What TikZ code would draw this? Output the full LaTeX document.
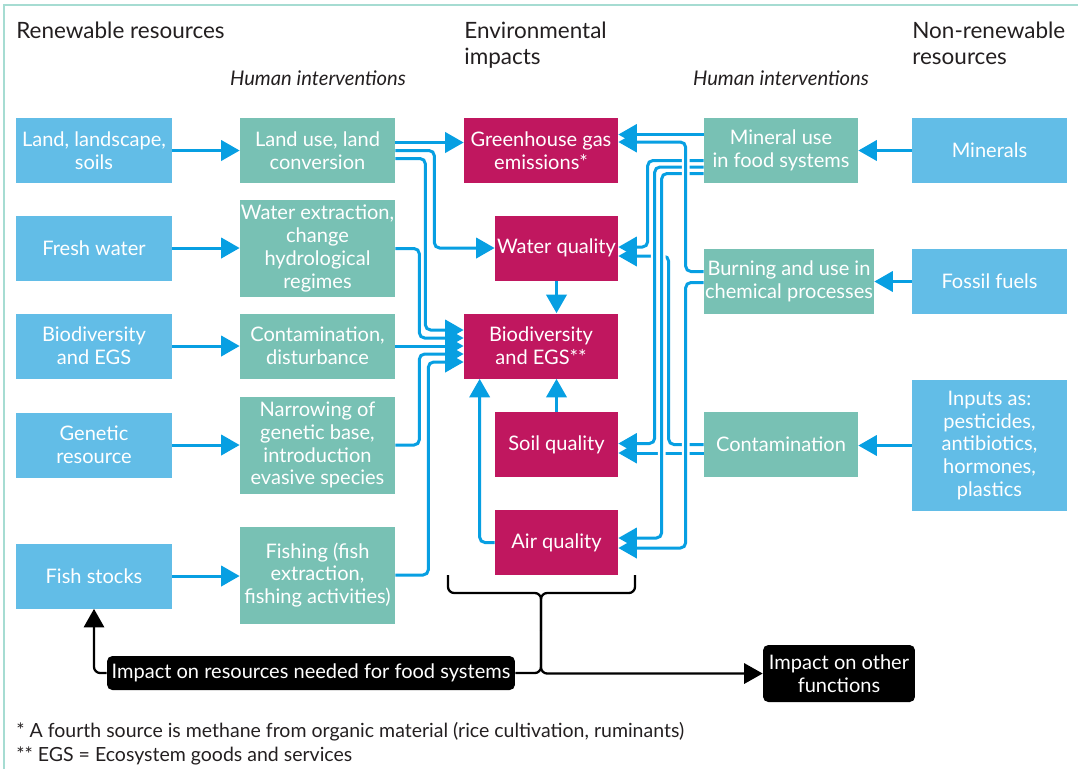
\documentclass[tikz,border=0pt]{standalone}
\usepackage{fontspec}
\setmainfont{Lato}
\usetikzlibrary{arrows.meta,calc}
\definecolor{resblue}{HTML}{62BDE7}
\definecolor{actteal}{HTML}{78C1B4}
\definecolor{impred}{HTML}{C0175F}
\definecolor{flowblue}{HTML}{079FE2}
\definecolor{framegreen}{HTML}{A6DCD2}
\definecolor{inkgray}{HTML}{231F20}
\tikzset{
  box/.style={inner sep=0pt, align=center, text=white, font=\fontsize{11.4}{13}\selectfont},
  resbox/.style={box, fill=resblue, minimum width=3.12cm, minimum height=1.3cm},
  actbox/.style={box, fill=actteal, minimum width=3.1cm, minimum height=1.3cm},
  impbox/.style={box, fill=impred, minimum width=2.46cm, minimum height=1.3cm},
  outbox/.style={box, fill=black, rounded corners=3pt},
  head/.style={anchor=north west, inner sep=0pt, align=left, text=inkgray, font=\fontsize{12.8}{14.8}\selectfont},
  note/.style={anchor=west, inner sep=0pt, text=inkgray, font=\fontsize{11.1}{12}\selectfont},
  flow/.style={flowblue, line width=1.7pt, rounded corners=3pt, -{Triangle[length=10.5pt,width=11.5pt]},
    preaction={draw=white, line width=4.4pt, arrows=-, shorten >=10pt}},
  outline/.style={draw=black, line width=1.3pt, rounded corners=3.5pt},
}
\begin{document}
\begin{tikzpicture}[x=0.02cm, y=-0.02cm]
  \useasboundingbox (0,0) rectangle (1078,769);
  \draw[framegreen, line width=0.9pt] (4,769) -- (4,5) -- (1078,5);

  % headings
  \node[head] (hren) at (16,22) {Renewable resources};
  \node[head] (henv) at (464,22) {Environmental\\impacts};
  \node[head] (hnon) at (912,22) {Non-renewable\\resources};
  \node[text=inkgray, font=\fontsize{11.5}{13}\selectfont\itshape] (hintl) at (318,78) {Human interventions};
  \node[text=inkgray, font=\fontsize{11.5}{13}\selectfont\itshape] (hintr) at (781,78) {Human interventions};

  % renewable resources
  \node[resbox] (la) at (94,150.5) {Land, landscape,\\soils};
  \node[resbox] (fw) at (94,248) {Fresh water};
  \node[resbox] (bd) at (94,346) {Biodiversity\\and EGS};
  \node[resbox] (ge) at (94,445) {Genetic\\resource};
  \node[resbox] (fs) at (94,576) {Fish stocks};

  % human interventions, left
  \node[actbox] (lu) at (317.5,150.5) {Land use, land\\conversion};
  \node[actbox, minimum height=1.94cm] (wx) at (317.5,248.5) {Water extraction,\\change\\hydrological\\regimes};
  \node[actbox] (cd) at (317.5,346) {Contamination,\\disturbance};
  \node[actbox, minimum height=1.94cm] (nw) at (317.5,445) {Narrowing of\\genetic base,\\introduction\\evasive species};
  \node[actbox, minimum height=1.94cm] (fi) at (317.5,575) {Fishing (fish\\extraction,\\fishing activities)};

  % environmental impacts
  \node[impbox, minimum width=3.08cm] (ghg) at (541,150.5) {Greenhouse gas\\emissions*};
  \node[impbox] (wq) at (556.5,248) {Water quality};
  \node[impbox, minimum width=3.08cm] (bio) at (541,346) {Biodiversity\\and EGS**};
  \node[impbox] (soil) at (556.5,444.5) {Soil quality};
  \node[impbox] (air) at (556.5,542.5) {Air quality};

  % human interventions, right
  \node[actbox, minimum width=3.08cm] (mu) at (781,150.5) {Mineral use\\in food systems};
  \node[actbox, minimum width=3.4cm] (bu) at (789,281.5) {Burning and use in\\chemical processes};
  \node[actbox, minimum width=3.08cm] (ct) at (781,444.5) {Contamination};

  % non-renewable resources
  \node[resbox, minimum width=3.1cm] (mi) at (989.5,150.5) {Minerals};
  \node[resbox, minimum width=3.1cm] (ff) at (989.5,281.5) {Fossil fuels};
  \node[resbox, minimum width=3.1cm, minimum height=2.62cm] (in) at (989.5,445.5) {Inputs as:\\pesticides,\\antibiotics,\\hormones,\\plastics};

  % outcomes
  \node[outbox, minimum width=8.16cm, minimum height=0.68cm] (impres) at (311,673) {Impact on resources needed for food systems};
  \node[outbox, minimum width=3.04cm, minimum height=1.14cm] (other) at (839,673.5) {Impact on other\\functions};

  % resources to interventions
  \draw[flow] (la.east) -- (la.east -| lu.west);
  \draw[flow] (fw.east) -- (fw.east -| wx.west);
  \draw[flow] (bd.east) -- (bd.east -| cd.west);
  \draw[flow] (ge.east) -- (ge.east -| nw.west);
  \draw[flow] (fs.east) -- (fs.east -| fi.west);
  \draw[flow] (mi.west) -- (mi.west -| mu.east);
  \draw[flow] (ff.west) -- (ff.west -| bu.east);
  \draw[flow] (in.west) -- (in.west -| ct.east);

  % left interventions to impacts
  \draw[flow] ($(lu.east)+(0,-8)$) -- ($(ghg.west)+(0,-8)$);
  \draw[flow] (lu.east) -- ++(39,0) |- (wq.west);
  \draw[flow] ($(lu.east)+(0,8)$) -- ++(30,0) |- ($(bio.west)+(0,-16)$);
  \draw[flow] (wx.east) -- ++(24,0) |- ($(bio.west)+(0,-8)$);
  \draw[flow] (cd) -- (bio);
  \draw[flow] (nw.east) -- ++(24,0) |- ($(bio.west)+(0,8)$);
  \draw[flow] (fi.east) -- ++(33,0) |- ($(bio.west)+(0,16)$);

  % impacts to biodiversity
  \draw[flow] (wq.south) -- (wq.south |- bio.north);
  \draw[flow] (soil.north) -- (soil.north |- bio.south);
  \draw[flow] (air.west) -| ($(bio.south west)+(16,0)$);

  % right interventions to impacts
  \draw[flow] (ct.west) -- ++(-35,0) |- ($(wq.east)+(0,8)$);
  \draw[flow] ($(ct.west)+(0,8.5)$) -- ($(soil.east)+(0,8.5)$);
  \draw[flow] ($(mu.west)+(0,-16)$) -- ($(ghg.east)+(0,-16)$);
  \draw[flow] ($(mu.west)+(0,10)$) -- ++(-56,0) |- ($(wq.east)+(0,-1)$);
  \draw[flow] ($(mu.west)+(0,16.5)$) -- ++(-49,0) |- ($(soil.east)+(0,-1)$);
  \draw[flow] ($(mu.west)+(0,23)$) -- ++(-42,0) |- ($(air.east)+(0,-4.5)$);
  \draw[flow] ($(bu.west)+(0,-10)$) -- ++(-18,0) |- ($(ghg.east)+(0,-8.5)$);
  \draw[flow] ($(bu.west)+(0,1)$) -- ++(-18,0) |- ($(air.east)+(0,5.5)$);

  % bracket and feedback
  \coordinate (brL) at (448,575);
  \coordinate (brR) at (635,575);
  \coordinate (brM) at (541,593);
  \coordinate (brS) at (541,630);
  \draw[outline] (brL) |- (brM) -- (brS);
  \draw[outline] (brR) |- (brM) -- (brS);
  \draw[outline] (impres.east) -| (brS);
  \draw[outline, -{Triangle[length=10.5pt,width=11.5pt]}] (brS) |- (other.west);
  \draw[outline, -{Triangle[length=10.5pt,width=11.5pt]}] (impres.west) -| (fs.south);

  % footnotes
  \node[note] (fn1) at (16,732) {* A fourth source is methane from organic material (rice cultivation, ruminants)};
  \node[note] (fn2) at (16,756) {** EGS = Ecosystem goods and services};
\end{tikzpicture}
\end{document}
